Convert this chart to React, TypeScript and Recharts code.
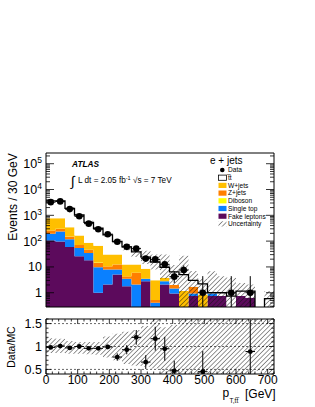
import React from "react";
import {
  ComposedChart,
  Area,
  Line,
  Scatter,
  ErrorBar,
  XAxis,
  YAxis,
  ReferenceArea,
  ReferenceLine,
} from "recharts";

// 30 GeV bins from 0 to 720 GeV
const binEdges = [0, 30, 60, 90, 120, 150, 180, 210, 240, 270, 300, 330, 360, 390, 420, 450, 480, 510, 540, 570, 600, 630, 660, 690, 720];
const binCenters = [15, 45, 75, 105, 135, 165, 195, 225, 255, 285, 315, 345, 375, 405, 435, 465, 495, 525, 555, 585, 615, 645, 675, 705];

// stacked expectation, events per bin
const fakeLeptons = [106, 97, 59, 26, 18, 1, 2.1, 5.1, 1.8, 0, 2.8, 0, 2.1, 0.94, 0, 0.74, 0, 0.74, 0.74, 0, 0.74, 0.64, 0, 0];
const singleTop = [85, 138, 60, 28, 16.5, 8.7, 5.8, 2.8, 1.65, 2.1, 0.65, 0.41, 0.7, 0.53, 0, 0.2, 0, 0.2, 0, 0, 0, 0, 0, 0];
const zJets = [66, 63, 32, 16, 11.5, 5.3, 2.7, 4.4, 0.95, 3.8, 0, 0.11, 0, 0.53, 0, 0.76, 0, 0, 0, 0, 0, 0, 0, 0];
const diboson = [3, 3, 2, 1, 0.6, 0.4, 0.2, 0.1, 0.05, 0, 0, 0, 0, 0, 0, 0, 0, 0, 0, 0, 0, 0, 0, 0];
const wJets = [510, 469, 194, 95, 40, 51, 19.4, 17.7, 7.9, 6.4, 5, 2.5, 1.0, 0, 1.16, 0, 0.86, 0, 0, 0, 0, 0, 0, 0];
const ttbar = [2890, 2890, 1513, 864, 450, 249, 145, 67, 47, 26, 15.6, 12.5, 5.9, 4.4, 3.9, 1.3, 1.34, 0.06, 0.26, 0.74, 0.42, 0.52, 0, 0.59];

// total expectation uncertainty band (events)
const mcBandHi = [4100, 4100, 2100, 1160, 610, 360, 200, 115, 75, 55, 42, 30, 30, 12, 27, 7, 3.5, 6.8, 4.4, 3.8, 2.4, 2.1, 0, 1.16];
const mcBandLo = [3220, 3220, 1620, 900, 465, 270, 150, 80, 44, 24, 13, 8, 3.5, 2, 0, 0, 0, 0, 0, 0, 0, 0, 0, 0];

// data
const dataEvents = [3240, 3460, 1740, 915, 475, 290, 185, 94, 60, 51, 21, 19.6, 12.6, 4.2, 7.6, null, 1, null, null, 1, null, 1, null, null];
const dataErrUp = [57, 59, 42, 30, 22, 17, 14, 10, 8, 7, 4.6, 4.4, 3.5, 2.6, 3.8, 0, 3.4, 0, 0, 3.4, 0, 3.4, 0, 0];
const dataErrDown = [57, 59, 42, 30, 22, 17, 14, 10, 8, 7, 4.6, 4.4, 3.5, 1.8, 2.7, 0, 0.72, 0, 0, 0.72, 0, 0.72, 0, 0];

// ratio panel
const ratioValues = [0.98, 1.01, 0.97, 1.0, 0.96, 0.96, 0.99, 0.77, 0.93, 1.2, 0.66, 1.17, 0.95, 0.47, null, null, 0.45, null, null, null, null, 0.89, null, null];
const ratioErrUp = [0.02, 0.02, 0.02, 0.03, 0.03, 0.04, 0.05, 0.08, 0.1, 0.16, 0.15, 0.26, 0.26, 0.22, 0, 0, 0.45, 0, 0, 0, 0, 0.7, 0, 0];
const ratioErrDown = [0.02, 0.02, 0.02, 0.03, 0.03, 0.04, 0.05, 0.08, 0.1, 0.16, 0.15, 0.26, 0.26, 0.07, 0, 0, 0.05, 0, 0, 0, 0, 0.49, 0, 0];
const ratioBandHi = [1.18, 1.17, 1.12, 1.1, 1.1, 1.1, 1.22, 1.28, 1.32, 1.36, 1.45, 1.65, 1.42, 1.47, 1.65, 1.65, 1.65, 1.65, 1.65, 1.65, 1.65, 1.65, 1.65, 1.65];
const ratioBandLo = [0.86, 0.86, 0.84, 0.84, 0.83, 0.82, 0.76, 0.7, 0.62, 0.58, 0.56, 0.52, 0.35, 0.35, 0.35, 0.35, 0.35, 0.35, 0.35, 0.35, 0.35, 0.35, 0.47, 0.35];

const xMajorLabels = [0, 100, 200, 300, 400, 500, 600, 700];

const legendItems = [
  { label: "Data", kind: "dot", color: "#000" },
  { label: "t\u0305t", kind: "box", color: "#fff" },
  { label: "W+jets", kind: "box", color: "#ffbf00" },
  { label: "Z+jets", kind: "box", color: "#ff7f00" },
  { label: "Diboson", kind: "box", color: "#ffff00" },
  { label: "Single top", kind: "box", color: "#0a80ff" },
  { label: "Fake leptons", kind: "box", color: "#5c0a5c" },
  { label: "Uncertainty", kind: "hatch", color: "#fff" },
];

const FONT = "'Liberation Sans', Arial, Helvetica, sans-serif";
const PW = 228;
const MAIN_H = 154;
const RATIO_H = 55;
const Y_MIN = 0.28;
const Y_MAX = 2.6e5;
const FLOOR = 0.01;
const nBins = binCenters.length;

const xTicks: number[] = [];
for (let v = 0; v <= 720; v += 20) xTicks.push(v);

const logTicks: number[] = [];
for (let e = -1; e <= 5; e++) {
  for (let m = 1; m <= 9; m++) {
    const v = m * Math.pow(10, e);
    if (v >= Y_MIN && v <= Y_MAX) logTicks.push(v);
  }
}

const ratioTicks: number[] = [];
for (let k = 4; k <= 16; k++) ratioTicks.push(k / 10);

const f = (v: number) => Math.max(v, FLOOR);

const mainRows = binEdges.map((x, k) => {
  const i = Math.min(k, nBins - 1);
  const c1 = fakeLeptons[i];
  const c2 = c1 + singleTop[i];
  const c3 = c2 + zJets[i];
  const c4 = c3 + diboson[i];
  const c5 = c4 + wJets[i];
  const c6 = c5 + ttbar[i];
  return {
    x,
    fake: [FLOOR, f(c1)],
    top: [f(c1), f(c2)],
    z: [f(c2), f(c3)],
    dib: [f(c3), f(c4)],
    w: [f(c4), f(c5)],
    tt: [f(c5), f(c6)],
    total: f(c6),
    band: [f(mcBandLo[i]), f(mcBandHi[i])],
  };
});

const dataPoints = binCenters
  .map((x, i) => ({ x, y: dataEvents[i], ey: [dataErrDown[i], dataErrUp[i]], ex: 15 }))
  .filter((p) => p.y !== null);

const ratioRows = binEdges.map((x, k) => {
  const i = Math.min(k, nBins - 1);
  return { x, band: [ratioBandLo[i], ratioBandHi[i]] };
});

const ratioPoints = binCenters
  .map((x, i) => ({ x, y: ratioValues[i], ey: [ratioErrDown[i], ratioErrUp[i]], ex: 15 }))
  .filter((p) => p.y !== null);

const LogTick = (props: any) => {
  const { x, y, payload } = props;
  const lg = Math.log10(payload.value);
  const e = Math.round(lg);
  const major = Math.abs(lg - e) < 1e-6;
  const len = major ? 8 : 4;
  return (
    <g>
      <line x1={x} x2={x + len} y1={y} y2={y} stroke="#000" strokeWidth={0.8} />
      <line x1={x + PW} x2={x + PW - len} y1={y} y2={y} stroke="#000" strokeWidth={0.8} />
      {major && (
        <text x={x - 4} y={y + 4.5} textAnchor="end" fontSize={12.5} fontFamily={FONT} fill="#000">
          {e === 0 ? "1" : e === 1 ? "10" : (
            <>
              10<tspan dy={-5} fontSize={8.5}>{e}</tspan>
            </>
          )}
        </text>
      )}
    </g>
  );
};

const MainXTick = (props: any) => {
  const { x, y, payload } = props;
  const len = payload.value % 100 === 0 ? 7 : 3.5;
  return (
    <g>
      <line x1={x} x2={x} y1={y} y2={y - len} stroke="#000" strokeWidth={0.8} />
      <line x1={x} x2={x} y1={y - MAIN_H} y2={y - MAIN_H + len} stroke="#000" strokeWidth={0.8} />
    </g>
  );
};

const RatioXTick = (props: any) => {
  const { x, y, payload } = props;
  const major = payload.value % 100 === 0;
  const len = major ? 5 : 2.5;
  return (
    <g>
      <line x1={x} x2={x} y1={y} y2={y - len} stroke="#000" strokeWidth={0.8} />
      <line x1={x} x2={x} y1={y - RATIO_H} y2={y - RATIO_H + len} stroke="#000" strokeWidth={0.8} />
      {major && xMajorLabels.includes(payload.value) && (
        <text x={x} y={y + 10} textAnchor="middle" fontSize={12} fontFamily={FONT} fill="#000">
          {payload.value}
        </text>
      )}
    </g>
  );
};

const RatioYTick = (props: any) => {
  const { x, y, payload } = props;
  const v = Math.round(payload.value * 10);
  const major = v % 5 === 0;
  const len = major ? 5 : 2.5;
  return (
    <g>
      <line x1={x} x2={x + len} y1={y} y2={y} stroke="#000" strokeWidth={0.8} />
      <line x1={x + PW} x2={x + PW - len} y1={y} y2={y} stroke="#000" strokeWidth={0.8} />
      {major && v >= 5 && v <= 15 && (
        <text x={x - 4} y={y + 4.5} textAnchor="end" fontSize={12.5} fontFamily={FONT} fill="#000">
          {v === 10 ? "1" : (v / 10).toString()}
        </text>
      )}
    </g>
  );
};

const Hatch = ({ id }: { id: string }) => (
  <defs>
    <pattern id={id} width={3.3} height={3.3} patternUnits="userSpaceOnUse" patternTransform="rotate(45)">
      <line x1={0} y1={0} x2={0} y2={3.3} stroke="#111" strokeWidth={0.9} />
    </pattern>
  </defs>
);

const mainDot = (p: any) => <circle cx={p.cx} cy={p.cy} r={3.3} fill="#000" />;
const ratioDot = (p: any) => <circle cx={p.cx} cy={p.cy} r={2.4} fill="#000" />;

const Overlay = () => (
  <svg width={315} height={407} style={{ position: "absolute", left: 0, top: 0, pointerEvents: "none" }}>
    <Hatch id="legendHatch" />
    <text transform="translate(16.5,197) rotate(-90)" textAnchor="middle" fontSize={12} fontFamily={FONT}>
      Events / 30 GeV
    </text>
    <text transform="translate(14.5,347) rotate(-90)" textAnchor="middle" fontSize={10.5} fontFamily={FONT}>
      Data/MC
    </text>
    <text x={72} y={166.7} fontSize={8.3} fontWeight="bold" fontStyle="italic" fontFamily={FONT}>
      ATLAS
    </text>
    <text x={71} y={186} fontSize={14} fontFamily={FONT}>
      ∫
    </text>
    <text x={78} y={183.3} fontSize={8.2} fontFamily={FONT}>
      L dt = 2.05 fb<tspan dy={-3} fontSize={5.5}>-1</tspan>
      <tspan dy={3}> √s = 7 TeV</tspan>
    </text>
    <text x={210} y={164} fontSize={10} fontFamily={FONT}>
      e + jets
    </text>
    {legendItems.map((item, k) => {
      const yc = 170 + k * 7.7;
      return (
        <g key={item.label}>
          {item.kind === "dot" && <circle cx={222.3} cy={yc} r={2.3} fill="#000" />}
          {item.kind === "box" && (
            <rect x={218.5} y={yc - 2.6} width={8} height={5.2} fill={item.color} stroke={item.color === "#fff" ? "#000" : "none"} strokeWidth={0.8} />
          )}
          {item.kind === "hatch" && <rect x={218.5} y={yc - 2.6} width={8} height={5.2} fill="url(#legendHatch)" />}
          <text x={228} y={yc + 2.3} fontSize={6.6} fontFamily={FONT}>
            {item.label}
          </text>
        </g>
      );
    })}
    <text x={222.5} y={397} fontSize={12} fontFamily={FONT}>
      p
    </text>
    <text x={229.5} y={403} fontSize={6.5} fontFamily={FONT}>
      T,t{"t\u0305"}
    </text>
    <text x={245} y={397.5} fontSize={12} fontFamily={FONT}>
      [GeV]
    </text>
  </svg>
);

export default function App() {
  return (
    <div style={{ position: "absolute", left: 0, top: 0, width: 315, height: 407, background: "#fff" }}>
      <div style={{ position: "absolute", left: 0, top: 0 }}>
        <ComposedChart width={315} height={310} data={mainRows} margin={{ top: 153, right: 41, bottom: 3, left: 6 }}>
          <Hatch id="mainHatch" />
          <Area type="stepAfter" dataKey="fake" fill="#5c0a5c" fillOpacity={1} stroke="none" isAnimationActive={false} />
          <Area type="stepAfter" dataKey="top" fill="#0a80ff" fillOpacity={1} stroke="none" isAnimationActive={false} />
          <Area type="stepAfter" dataKey="z" fill="#ff7f00" fillOpacity={1} stroke="none" isAnimationActive={false} />
          <Area type="stepAfter" dataKey="dib" fill="#ffff00" fillOpacity={1} stroke="none" isAnimationActive={false} />
          <Area type="stepAfter" dataKey="w" fill="#ffbf00" fillOpacity={1} stroke="none" isAnimationActive={false} />
          <Area type="stepAfter" dataKey="tt" fill="#ffffff" fillOpacity={1} stroke="none" isAnimationActive={false} />
          <Line type="stepAfter" dataKey="total" stroke="#000" strokeWidth={1.3} dot={false} isAnimationActive={false} />
          <Area type="stepAfter" dataKey="band" fill="url(#mainHatch)" fillOpacity={1} stroke="none" isAnimationActive={false} />
          <Scatter data={dataPoints} dataKey="y" shape={mainDot} isAnimationActive={false}>
            <ErrorBar dataKey="ey" direction="y" width={0} stroke="#000" strokeWidth={1} />
            <ErrorBar dataKey="ex" direction="x" width={0} stroke="#000" strokeWidth={1} />
          </Scatter>
          <ReferenceArea x1={0} x2={720} y1={Y_MIN} y2={Y_MAX} fill="none" stroke="#000" strokeWidth={1} ifOverflow="visible" />
          <XAxis
            type="number"
            dataKey="x"
            domain={[0, 720]}
            ticks={xTicks}
            interval={0}
            tick={<MainXTick />}
            tickLine={false}
            axisLine={false}
            tickSize={0}
            tickMargin={0}
            height={0}
            allowDataOverflow
          />
          <YAxis
            type="number"
            scale="log"
            domain={[Y_MIN, Y_MAX]}
            ticks={logTicks}
            interval={0}
            tick={<LogTick />}
            tickLine={false}
            axisLine={false}
            tickSize={0}
            tickMargin={0}
            width={40}
            allowDataOverflow
          />
        </ComposedChart>
      </div>
      <div style={{ position: "absolute", left: 0, top: 310 }}>
        <ComposedChart width={315} height={97} data={ratioRows} margin={{ top: 9, right: 41, bottom: 0, left: 6 }}>
          <Hatch id="ratioHatch" />
          <Area type="stepAfter" dataKey="band" fill="url(#ratioHatch)" fillOpacity={1} stroke="none" isAnimationActive={false} />
          <ReferenceLine y={0.5} stroke="#000" strokeWidth={0.6} strokeDasharray="2 2" />
          <ReferenceLine y={1} stroke="#000" strokeWidth={0.6} strokeDasharray="2 2" />
          <ReferenceLine y={1.5} stroke="#000" strokeWidth={0.6} strokeDasharray="2 2" />
          <Scatter data={ratioPoints} dataKey="y" shape={ratioDot} isAnimationActive={false}>
            <ErrorBar dataKey="ey" direction="y" width={0} stroke="#000" strokeWidth={1} />
            <ErrorBar dataKey="ex" direction="x" width={0} stroke="#000" strokeWidth={1} />
          </Scatter>
          <ReferenceArea x1={0} x2={720} y1={0.4} y2={1.6} fill="none" stroke="#000" strokeWidth={1} ifOverflow="visible" />
          <XAxis
            type="number"
            dataKey="x"
            domain={[0, 720]}
            ticks={xTicks}
            interval={0}
            tick={<RatioXTick />}
            tickLine={false}
            axisLine={false}
            tickSize={0}
            tickMargin={0}
            height={33}
            allowDataOverflow
          />
          <YAxis
            type="number"
            domain={[0.4, 1.6]}
            ticks={ratioTicks}
            interval={0}
            tick={<RatioYTick />}
            tickLine={false}
            axisLine={false}
            tickSize={0}
            tickMargin={0}
            width={40}
            allowDataOverflow
          />
        </ComposedChart>
      </div>
      <Overlay />
    </div>
  );
}
